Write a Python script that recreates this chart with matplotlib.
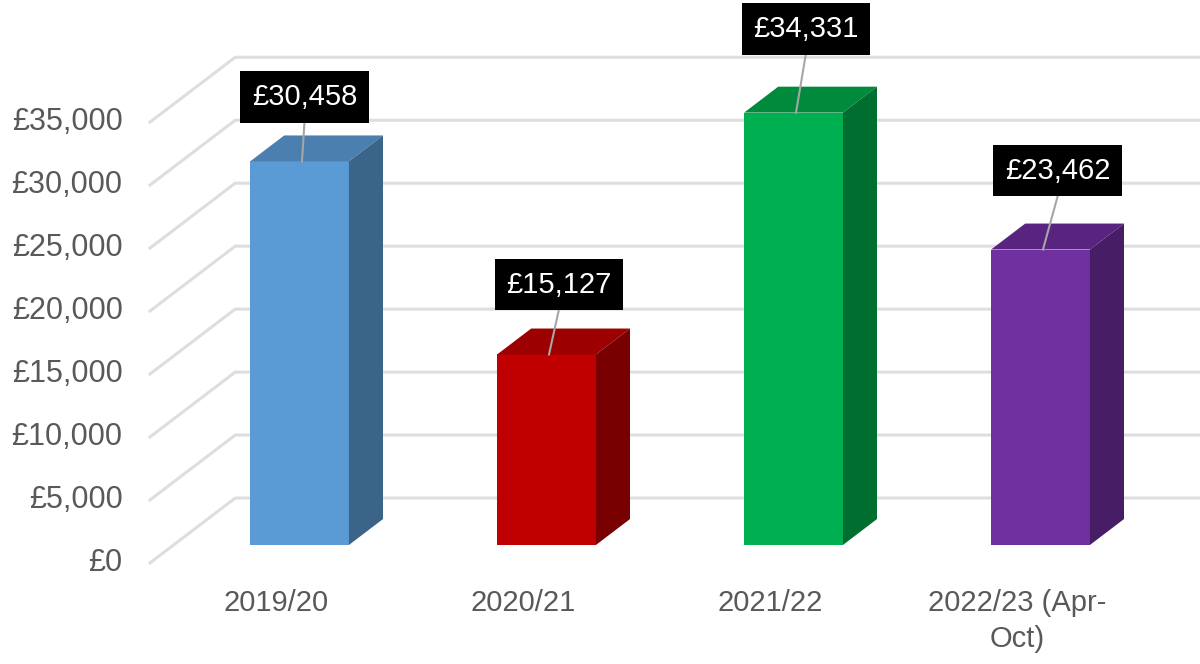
import numpy as np
import matplotlib
matplotlib.use("Agg")
from matplotlib import pyplot as plt
from matplotlib.patches import Polygon

plt.rcParams['font.family'] = ['Liberation Sans', 'DejaVu Sans']

# data
years = ['2019/20', '2020/21', '2021/22', '2022/23 (Apr-\nOct)']
spend = [30458, 15127, 34331, 23462]
y_ticks = [0, 5000, 10000, 15000, 20000, 25000, 30000, 35000]

front_cols = ['#5b9bd5', '#c00000', '#00b050', '#7030a0']
top_cols = ['#4a7fb0', '#9c0000', '#008a3c', '#58247f']
side_cols = ['#3a6488', '#780000', '#006e2e', '#471d66']

# label box offsets (category units, value units) from the bar's top front edge
lab_dx = [0.02, 0.05, 0.05, 0.07]
lab_dy = [5100, 5550, 6650, 6270]

# the "3d" look: one unit of depth shifts right and up
DX = 0.138
DY = 2060
W = 0.40
D_FRONT = -0.69   # floor front edge
D_BACK = 1.81     # back wall
WALL_X = -0.51

fig = plt.figure(figsize=(12, 6.64), dpi=100)
ax = fig.add_axes([0, 0, 1, 1])
ax.set_xlim(-1.2126, 3.6457)
ax.set_ylim(-9449, 43273)
ax.axis('off')

grid_c = '#dedede'
for v in y_ticks:
	x0 = WALL_X + D_FRONT*DX
	x1 = WALL_X + D_BACK*DX
	ax.plot([x0, x1, 3.7], [v + D_FRONT*DY, v + D_BACK*DY, v + D_BACK*DY],
			color=grid_c, lw=2.2, zorder=1, solid_joinstyle='miter')
	ax.text(-0.7166, v + D_FRONT*DY, '£{:,}'.format(v), ha='right', va='center',
			fontsize=22, color='#595959')

for i, v in enumerate(spend):
	l = i - W/2
	r = i + W/2
	ax.add_patch(Polygon([[l, 0], [r, 0], [r, v], [l, v]], closed=True,
						 fc=front_cols[i], ec='none', zorder=3))
	ax.add_patch(Polygon([[l, v], [r, v], [r+DX, v+DY], [l+DX, v+DY]], closed=True,
						 fc=top_cols[i], ec='none', zorder=3))
	ax.add_patch(Polygon([[r, 0], [r+DX, DY], [r+DX, v+DY], [r, v]], closed=True,
						 fc=side_cols[i], ec='none', zorder=3))

	# label + leader
	lx = i + lab_dx[i]
	ly = v + lab_dy[i]
	ax.plot([lx, i + 0.01], [ly - 2000, v], color='#a6a6a6', lw=1.5, zorder=4)
	ax.text(lx, ly, '£{:,}'.format(v), ha='center', va='center', fontsize=21,
			color='white', zorder=5,
			bbox=dict(boxstyle='square,pad=0.4', fc='black', ec='none'))

	ax.text(i + D_FRONT*DX, -3500, years[i], ha='center', va='top', fontsize=21,
			color='#595959', linespacing=1.35)

fig.savefig('out.png', dpi=100)
